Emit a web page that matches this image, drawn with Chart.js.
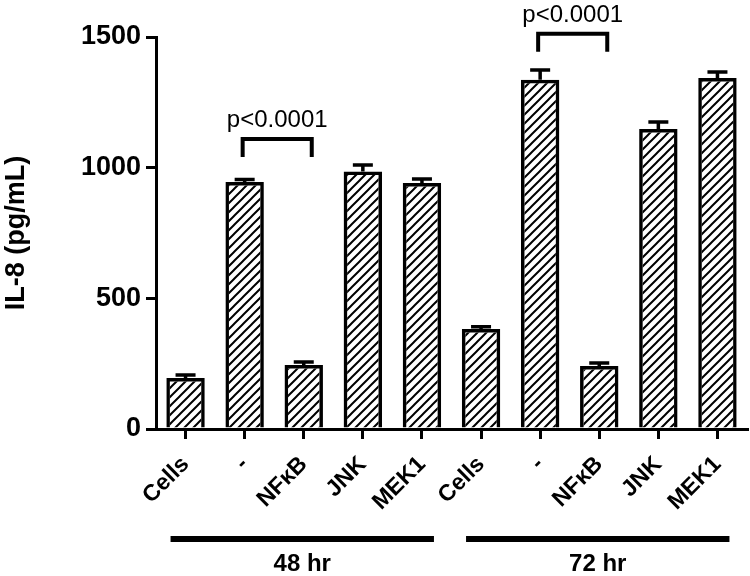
<!DOCTYPE html>
<html>
<head>
<meta charset="utf-8">
<script src="https://cdn.jsdelivr.net/npm/chart.js@4/dist/chart.umd.min.js"></script>
<style>
  body{margin:0;background:#fff}
  #wrap{width:750px;height:576px;position:relative}
</style>
</head>
<body>
<div id="wrap"><canvas id="chart1"></canvas></div>
<script>
// data
categories = ['Cells','-','NF\u03BAB','JNK','MEK1','Cells','-','NF\u03BAB','JNK','MEK1']
il8 = [195, 945, 245, 985, 941, 383, 1336, 241, 1148, 1343]
sem = [12, 10, 11, 25, 16, 8, 38, 12, 27, 23]
groups = ['48 hr','72 hr']
groupIndex = [[0,4],[5,9]]
yTicks = [0, 500, 1000, 1500]
// significance brackets: bar a vs bar b, bracket top (pg/mL)
pairs = [[1,2],[6,7]]
pairTops = [1110, 1512]
pLabel = 'p<0.0001'

FONT = '"Liberation Sans", Arial, Helvetica, sans-serif'
var ctx = document.getElementById('chart1').getContext('2d')

function hatch(){
  var s = 9
  var c = document.createElement('canvas')
  c.width = s; c.height = s
  var g = c.getContext('2d')
  g.strokeStyle = '#000'
  g.lineWidth = 2
  g.beginPath()
  g.moveTo(-1, s+1); g.lineTo(s+1, -1)
  g.moveTo(-2, 2); g.lineTo(2, -2)
  g.moveTo(s-2, s+2); g.lineTo(s+2, s-2)
  g.stroke()
  return ctx.createPattern(c, 'repeat')
}

var extras = {
  id: 'extras',
  afterDatasetsDraw(chart){
    var c = chart.ctx, x = chart.scales.x, y = chart.scales.y
    var bars = chart.getDatasetMeta(0).data
    c.save()
    c.strokeStyle = '#000'
    c.lineCap = 'butt'
    // error bars (upper only)
    c.lineWidth = 3.5
    bars.forEach(function(b, i){
      var top = y.getPixelForValue(il8[i] + sem[i])
      var base = y.getPixelForValue(il8[i])
      c.beginPath()
      c.moveTo(b.x, base); c.lineTo(b.x, top)
      c.moveTo(b.x - 10, top); c.lineTo(b.x + 10, top)
      c.stroke()
    })
    // brackets + p value
    c.lineWidth = 4
    c.fillStyle = '#000'
    c.font = '24px ' + FONT
    c.textAlign = 'center'
    c.textBaseline = 'alphabetic'
    pairs.forEach(function(p, k){
      var x1 = x.getPixelForValue(p[0]) - 2
      var x2 = x.getPixelForValue(p[1]) + 8
      var yt = y.getPixelForValue(pairTops[k])
      c.beginPath()
      c.moveTo(x1, yt + 18); c.lineTo(x1, yt); c.lineTo(x2, yt); c.lineTo(x2, yt + 18)
      c.stroke()
      c.fillText(pLabel, (x1 + x2) / 2, yt - 12)
    })
    // group bars under the axis
    c.font = 'bold 24px ' + FONT
    c.textBaseline = 'middle'
    groups.forEach(function(g, k){
      var a = x.getPixelForValue(groupIndex[k][0]) - 15
      var b = x.getPixelForValue(groupIndex[k][1]) + 12
      c.fillRect(a, 536, b - a, 6)
      c.fillText(g, (a + b) / 2, 564)
    })
    c.restore()
  }
}

var myChart = new Chart(ctx, {
  type: 'bar',
  data: {
    labels: categories,
    datasets: [{
      data: il8,
      backgroundColor: hatch(),
      borderColor: '#000',
      borderWidth: 3.5,
      borderSkipped: 'start',
      categoryPercentage: 1,
      barPercentage: 0.65
    }]
  },
  options: {
    responsive: true,
    maintainAspectRatio: false,
    animation: false,
    layout: {padding: {top: 37, right: 3, left: 0, bottom: 0}},
    plugins: {legend: {display: false}, tooltip: {enabled: false}},
    scales: {
      x: {
        offset: true,
        afterFit: function(s){ s.height = 147 },
        border: {display: true, color: '#000', width: 3},
        grid: {display: true, drawOnChartArea: false, offset: false, tickLength: 10, tickWidth: 3, lineWidth: 3, color: '#000'},
        ticks: {
          autoSkip: false, minRotation: 45, maxRotation: 45, padding: 12,
          color: '#000', font: {family: FONT, size: 23, weight: 'bold'}
        }
      },
      y: {
        min: 0, max: 1500,
        afterFit: function(s){ s.width = 156 },
        afterBuildTicks: function(s){ s.ticks = yTicks.map(function(v){ return {value: v} }) },
        border: {display: true, color: '#000', width: 3},
        grid: {display: true, drawOnChartArea: false, tickLength: 10, tickWidth: 3, lineWidth: 3, color: '#000'},
        ticks: {
          padding: 5, color: '#000', font: {family: FONT, size: 27, weight: 'bold'},
          callback: function(v){ return String(v) }
        },
        title: {
          display: true, text: 'IL-8 (pg/mL)', color: '#000', padding: {top: 0, bottom: 0},
          font: {family: FONT, size: 27, weight: 'bold'}
        }
      }
    }
  },
  plugins: [extras]
})
</script>
</body>
</html>
